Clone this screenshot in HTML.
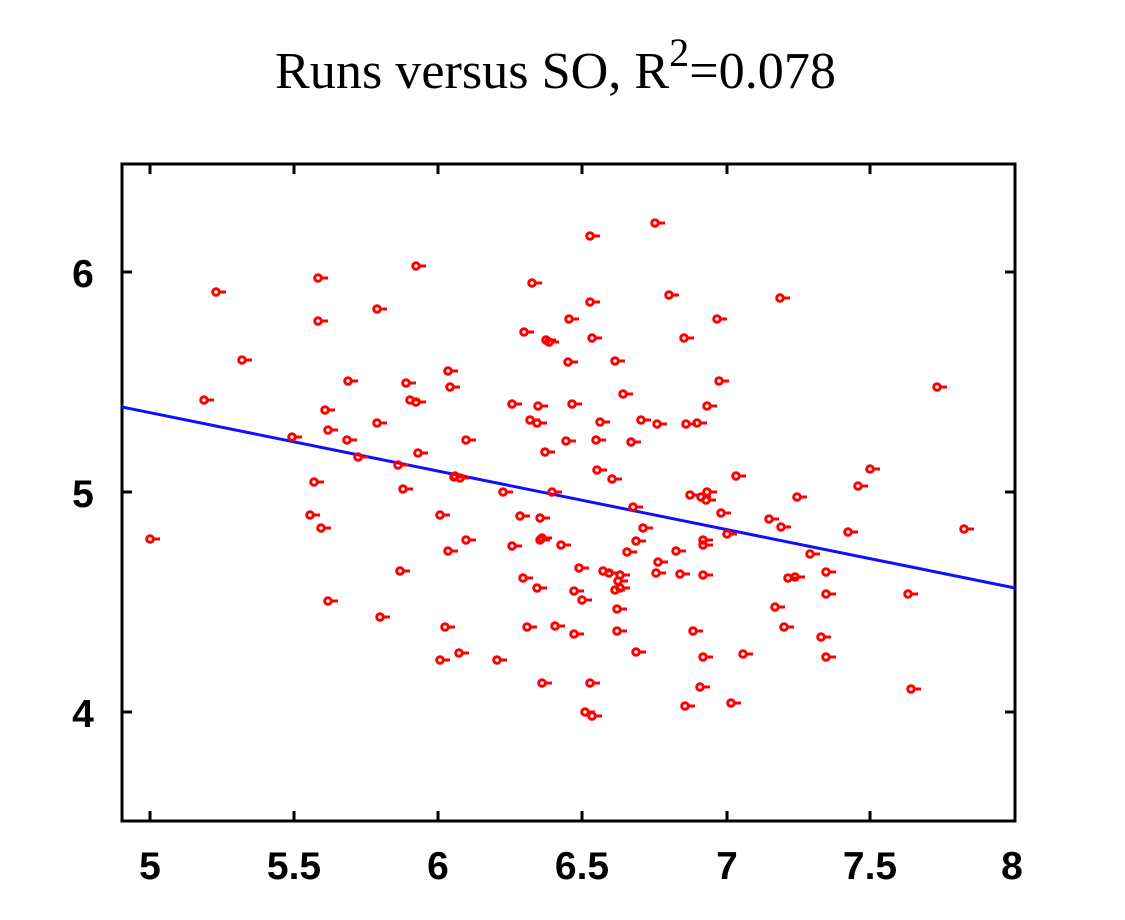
<!DOCTYPE html>
<html><head><meta charset="utf-8"><style>html,body{margin:0;padding:0;background:#fff}svg{display:block}</style></head>
<body>
<svg width="1125" height="920" viewBox="0 0 1125 920" xmlns="http://www.w3.org/2000/svg">
<defs><g id="m" stroke="#f00" stroke-width="3" fill="none"><circle cx="0" cy="0" r="3.3"/><line x1="3" y1="0" x2="10" y2="0"/></g></defs>
<rect width="1125" height="920" fill="#fff"/>
<text x="275" y="88" font-family="Liberation Serif, serif" font-size="52" fill="#000" textLength="561" lengthAdjust="spacingAndGlyphs">Runs versus SO, R<tspan dy="-22" font-size="40">2</tspan><tspan dy="22">=0.078</tspan></text>
<g stroke="#000" stroke-width="3" fill="none">
<rect x="122" y="164" width="893" height="657"/>
<path d="M150 164v10M294 164v10M438 164v10M582 164v10M727 164v10M870 164v10M150 821v-10M294 821v-10M438 821v-10M582 821v-10M727 821v-10M870 821v-10M122 272h10M122 492h10M122 712h10M1015 272h-10M1015 492h-10M1015 712h-10"/>
</g>
<g font-family="Liberation Sans, sans-serif" font-weight="bold" font-size="39" fill="#000" text-anchor="middle">
<text x="83" y="287">6</text><text x="83" y="507">5</text><text x="83" y="727">4</text>
<text x="150" y="879">5</text><text x="294" y="879">5.5</text><text x="438" y="879">6</text><text x="582" y="879">6.5</text><text x="727" y="879">7</text><text x="870" y="879">7.5</text><text x="1012" y="879">8</text>
</g>
<line x1="122" y1="407" x2="1015" y2="588" stroke="#1010ff" stroke-width="3"/>
<g>
<use href="#m" x="150" y="539"/><use href="#m" x="204" y="400"/><use href="#m" x="216" y="292"/><use href="#m" x="242" y="360"/><use href="#m" x="292" y="437"/><use href="#m" x="314" y="482"/><use href="#m" x="310" y="515"/><use href="#m" x="321" y="528"/><use href="#m" x="318" y="278"/><use href="#m" x="318" y="321"/><use href="#m" x="325" y="410"/><use href="#m" x="328" y="430"/><use href="#m" x="328" y="601"/><use href="#m" x="348" y="381"/><use href="#m" x="347" y="440"/><use href="#m" x="358" y="457"/><use href="#m" x="377" y="309"/><use href="#m" x="377" y="423"/><use href="#m" x="380" y="617"/><use href="#m" x="398" y="465"/><use href="#m" x="400" y="571"/><use href="#m" x="403" y="489"/><use href="#m" x="406" y="383"/><use href="#m" x="410" y="400"/><use href="#m" x="416" y="402"/><use href="#m" x="418" y="453"/><use href="#m" x="416" y="266"/><use href="#m" x="440" y="515"/><use href="#m" x="445" y="627"/><use href="#m" x="440" y="660"/><use href="#m" x="448" y="371"/><use href="#m" x="450" y="387"/><use href="#m" x="448" y="551"/><use href="#m" x="455" y="476"/><use href="#m" x="459" y="653"/><use href="#m" x="466" y="540"/><use href="#m" x="466" y="440"/><use href="#m" x="454" y="477"/><use href="#m" x="460" y="478"/><use href="#m" x="497" y="660"/><use href="#m" x="503" y="492"/><use href="#m" x="512" y="404"/><use href="#m" x="512" y="546"/><use href="#m" x="520" y="516"/><use href="#m" x="523" y="578"/><use href="#m" x="524" y="332"/><use href="#m" x="527" y="627"/><use href="#m" x="532" y="283"/><use href="#m" x="530" y="420"/><use href="#m" x="537" y="423"/><use href="#m" x="538" y="406"/><use href="#m" x="540" y="518"/><use href="#m" x="540" y="540"/><use href="#m" x="537" y="588"/><use href="#m" x="542" y="683"/><use href="#m" x="542" y="538"/><use href="#m" x="545" y="452"/><use href="#m" x="546" y="340"/><use href="#m" x="549" y="342"/><use href="#m" x="552" y="492"/><use href="#m" x="555" y="626"/><use href="#m" x="561" y="545"/><use href="#m" x="566" y="441"/><use href="#m" x="568" y="362"/><use href="#m" x="569" y="319"/><use href="#m" x="572" y="404"/><use href="#m" x="574" y="591"/><use href="#m" x="574" y="634"/><use href="#m" x="579" y="568"/><use href="#m" x="582" y="600"/><use href="#m" x="585" y="712"/><use href="#m" x="592" y="716"/><use href="#m" x="590" y="683"/><use href="#m" x="590" y="236"/><use href="#m" x="590" y="302"/><use href="#m" x="592" y="338"/><use href="#m" x="596" y="440"/><use href="#m" x="597" y="470"/><use href="#m" x="600" y="422"/><use href="#m" x="603" y="571"/><use href="#m" x="609" y="573"/><use href="#m" x="612" y="479"/><use href="#m" x="615" y="361"/><use href="#m" x="615" y="590"/><use href="#m" x="617" y="631"/><use href="#m" x="617" y="609"/><use href="#m" x="618" y="581"/><use href="#m" x="620" y="575"/><use href="#m" x="620" y="588"/><use href="#m" x="623" y="394"/><use href="#m" x="627" y="552"/><use href="#m" x="631" y="442"/><use href="#m" x="633" y="507"/><use href="#m" x="636" y="541"/><use href="#m" x="636" y="652"/><use href="#m" x="641" y="420"/><use href="#m" x="643" y="528"/><use href="#m" x="655" y="223"/><use href="#m" x="657" y="424"/><use href="#m" x="656" y="573"/><use href="#m" x="658" y="562"/><use href="#m" x="669" y="295"/><use href="#m" x="676" y="551"/><use href="#m" x="680" y="574"/><use href="#m" x="684" y="338"/><use href="#m" x="685" y="706"/><use href="#m" x="686" y="424"/><use href="#m" x="690" y="495"/><use href="#m" x="693" y="631"/><use href="#m" x="697" y="423"/><use href="#m" x="703" y="575"/><use href="#m" x="703" y="540"/><use href="#m" x="703" y="545"/><use href="#m" x="700" y="687"/><use href="#m" x="703" y="657"/><use href="#m" x="701" y="497"/><use href="#m" x="707" y="406"/><use href="#m" x="707" y="492"/><use href="#m" x="706" y="500"/><use href="#m" x="717" y="319"/><use href="#m" x="719" y="381"/><use href="#m" x="721" y="513"/><use href="#m" x="727" y="534"/><use href="#m" x="731" y="703"/><use href="#m" x="736" y="476"/><use href="#m" x="743" y="654"/><use href="#m" x="769" y="519"/><use href="#m" x="775" y="607"/><use href="#m" x="780" y="298"/><use href="#m" x="781" y="527"/><use href="#m" x="784" y="627"/><use href="#m" x="788" y="578"/><use href="#m" x="795" y="577"/><use href="#m" x="797" y="497"/><use href="#m" x="810" y="554"/><use href="#m" x="821" y="637"/><use href="#m" x="826" y="657"/><use href="#m" x="826" y="572"/><use href="#m" x="826" y="594"/><use href="#m" x="848" y="532"/><use href="#m" x="858" y="486"/><use href="#m" x="870" y="469"/><use href="#m" x="908" y="594"/><use href="#m" x="911" y="689"/><use href="#m" x="937" y="387"/><use href="#m" x="964" y="529"/>
</g>
</svg>
</body></html>
